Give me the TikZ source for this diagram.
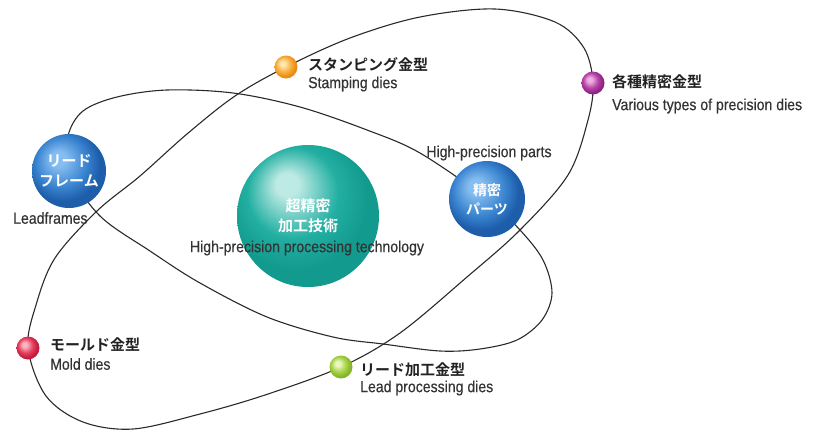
\documentclass[tikz,border=0pt]{standalone}
\usepackage{fontspec}
\setmainfont{Liberation Sans}[FakeStretch=0.88, FakeBold=0.4]
\newfontfamily\jp{Noto Sans CJK JP}[BoldFont={Noto Sans CJK JP Bold}]
\definecolor{bhl}{HTML}{86BDF0}
\definecolor{bmid}{HTML}{3A84D0}
\definecolor{bedge}{HTML}{1D5DAA}
\definecolor{thl}{HTML}{BDEAE4}
\definecolor{tmid}{HTML}{22AFA2}
\definecolor{tedge}{HTML}{129A8E}
\definecolor{ohl}{HTML}{FFE7B0}
\definecolor{omid}{HTML}{F8B040}
\definecolor{oedge}{HTML}{EC8A12}
\definecolor{phl}{HTML}{EBB0E2}
\definecolor{pmid}{HTML}{B845A8}
\definecolor{pedge}{HTML}{8E2283}
\definecolor{rhl}{HTML}{FBB4C0}
\definecolor{rmid}{HTML}{E4405E}
\definecolor{redge}{HTML}{C41A3C}
\definecolor{ghl}{HTML}{EAF7C0}
\definecolor{gmid}{HTML}{A8D44A}
\definecolor{gedge}{HTML}{84B428}
\definecolor{labc}{HTML}{222222}
\definecolor{enc}{HTML}{333333}
\definecolor{linec}{HTML}{2A2A2A}
\pgfdeclareradialshading{bluesph}{\pgfpoint{-8bp}{9bp}}{color(0bp)=(bhl); color(5bp)=(bhl); color(17bp)=(bmid); color(25bp)=(bedge); color(50bp)=(bedge)}
\pgfdeclareradialshading{tealsph}{\pgfpoint{-8bp}{12bp}}{color(0bp)=(thl); color(4bp)=(thl); color(16bp)=(tmid); color(25bp)=(tedge); color(50bp)=(tedge)}
\pgfdeclareradialshading{orangesph}{\pgfpoint{-8bp}{8bp}}{color(0bp)=(ohl); color(5bp)=(ohl); color(16bp)=(omid); color(25bp)=(oedge); color(50bp)=(oedge)}
\pgfdeclareradialshading{purplesph}{\pgfpoint{-8bp}{8bp}}{color(0bp)=(phl); color(5bp)=(phl); color(16bp)=(pmid); color(25bp)=(pedge); color(50bp)=(pedge)}
\pgfdeclareradialshading{redsph}{\pgfpoint{-8bp}{8bp}}{color(0bp)=(rhl); color(5bp)=(rhl); color(16bp)=(rmid); color(25bp)=(redge); color(50bp)=(redge)}
\pgfdeclareradialshading{greensph}{\pgfpoint{-8bp}{8bp}}{color(0bp)=(ghl); color(5bp)=(ghl); color(16bp)=(gmid); color(25bp)=(gedge); color(50bp)=(gedge)}
\tikzset{
  loop/.style={draw=linec, line width=1.1pt},
  bigball/.style={circle, inner sep=0pt, minimum size=#1, text=white, align=center,
    font=\jp\bfseries\fontsize{15}{19.5}\selectfont},
  smallball/.style={circle, inner sep=0pt, minimum size=23pt},
  jplab/.style={anchor=west, inner sep=0pt, text=labc, font=\jp\bfseries\fontsize{15}{18}\selectfont},
  enlab/.style={anchor=west, inner sep=0pt, text=enc, font=\fontsize{16}{18}\selectfont},
}
\begin{document}
\begin{tikzpicture}[x=1pt,y=-1pt]
\useasboundingbox (0,0) rectangle (823,432);
% ball positions
\coordinate (pStamp) at (286,67);
\coordinate (pVar) at (593,83);
\coordinate (pMold) at (28,348);
\coordinate (pLeadDie) at (341,367);
\coordinate (pLead) at (69,171);
\coordinate (pParts) at (487,199);
\coordinate (pCore) at (308,216);
% big tilted loop
\draw[loop] plot[smooth cycle, tension=0.55] coordinates {
  (pStamp) (350,38) (420,17) (495,9) (555,22) (584,48) (pVar) (588,120)
  (568,175) (520,230) (467,277) (400,333) (pLeadDie) (265,395) (200,414)
  (133,429) (83,422) (46,396) (pMold) (36,305) (55,258) (97,211)
  (140,176) (187,134) (235,96)};
% second loop through leadframes and parts
\draw[loop] plot[smooth cycle, tension=0.55] coordinates {
  (pLead) (100,216) (150,251) (200,283) (267,317) (333,337) (383,344)
  (440,351) (480,349) (517,340) (542,320) (552,293) (543,260) (520,230)
  (pParts) (420,153) (367,130) (300,107) (233,93) (167,90) (117,97)
  (83,111) (68,136)};
% balls
\node[bigball=74pt, shading=bluesph] (lead) at (pLead) {リード\\フレーム};
\node[bigball=142pt, shading=tealsph] (core) at (pCore) {超精密\\加工技術};
\node[bigball=76pt, shading=bluesph, font=\jp\bfseries\fontsize{14}{19}\selectfont] (parts) at (pParts) {精密\\パーツ};
\node[smallball, shading=orangesph] (stamp) at (pStamp) {};
\node[smallball, shading=purplesph] (var) at (pVar) {};
\node[smallball, shading=redsph] (mold) at (pMold) {};
\node[smallball, shading=greensph] (leaddie) at (pLeadDie) {};
% labels
\node[enlab] (tLead) at (13,218) {Leadframes};
\node[enlab, anchor=center] (tCore) at (307,248) {High-precision processing technology};
\node[enlab, anchor=center] (tParts) at (489,153) {High-precision parts};
\node[jplab] (jStamp) at (308,65) {スタンピング金型};
\node[enlab] (eStamp) at (308,84) {Stamping dies};
\node[jplab] (jVar) at (612,82) {各種精密金型};
\node[enlab] (eVar) at (612,106) {Various types of precision dies};
\node[jplab] (jMold) at (50,345) {モールド金型};
\node[enlab] (eMold) at (50,364) {Mold dies};
\node[jplab] (jLeadDie) at (360,370) {リード加工金型};
\node[enlab] (eLeadDie) at (360,388) {Lead processing dies};
\end{tikzpicture}
\end{document}
